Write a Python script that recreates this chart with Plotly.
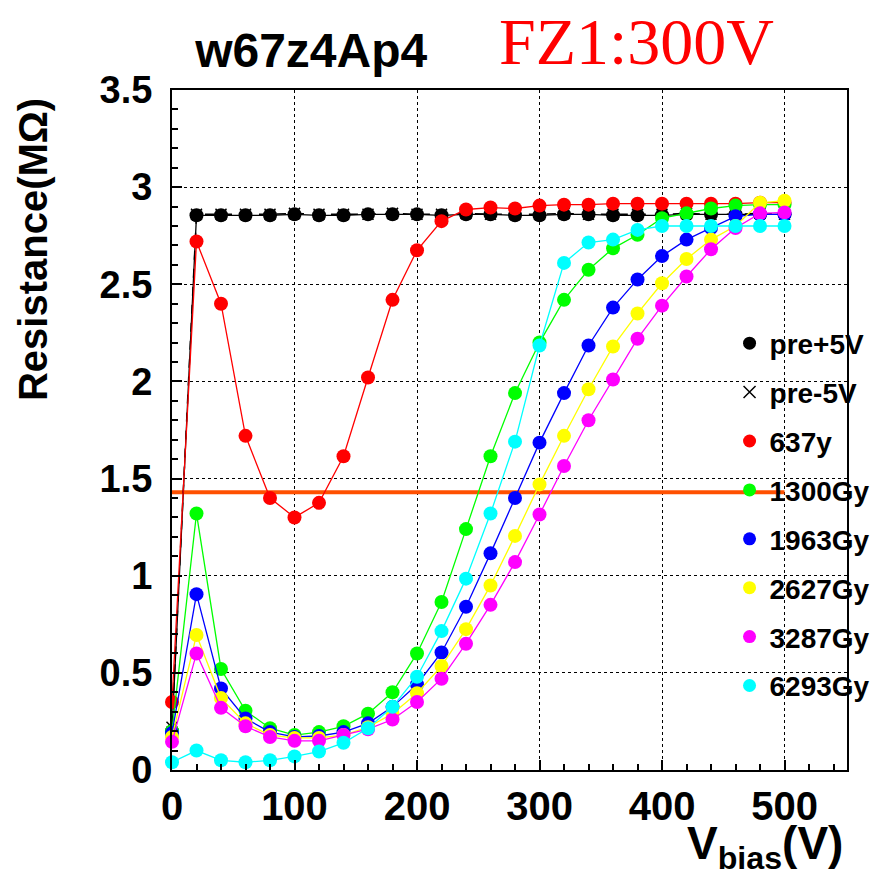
import plotly.graph_objects as go

vbias = [0, 20, 40, 60, 80, 100, 120, 140, 160, 180, 200, 220, 240, 260, 280, 300,
         320, 340, 360, 380, 400, 420, 440, 460, 480, 500]

pre_p5 = [0.20, 2.855, 2.855, 2.855, 2.855, 2.86, 2.855, 2.855, 2.86, 2.86, 2.86, 2.855, 2.86,
          2.86, 2.855, 2.855, 2.86, 2.86, 2.855, 2.855, 2.855, 2.86, 2.86, 2.86, 2.86, 2.86]
pre_m5 = [0.22, 2.86, 2.86, 2.86, 2.86, 2.865, 2.86, 2.86, 2.86, 2.865, 2.86, 2.86, 2.865,
          2.86, 2.86, 2.86, 2.865, 2.86, 2.86, 2.86, 2.86, 2.865, 2.86, 2.86, 2.865, 2.86]
d637 = [0.35, 2.72, 2.40, 1.72, 1.40, 1.30, 1.375, 1.615, 2.02, 2.42, 2.675, 2.825, 2.885,
        2.895, 2.89, 2.905, 2.91, 2.91, 2.915, 2.915, 2.915, 2.915, 2.915, 2.915, 2.92, 2.92]
d1300 = [0.20, 1.32, 0.52, 0.305, 0.215, 0.18, 0.195, 0.225, 0.29, 0.40, 0.60, 0.865, 1.24,
         1.615, 1.94, 2.20, 2.42, 2.575, 2.685, 2.755, 2.84, 2.865, 2.89, 2.905, 2.91, 2.91]
d1963 = [0.19, 0.905, 0.42, 0.265, 0.195, 0.17, 0.175, 0.195, 0.24, 0.325, 0.44, 0.605, 0.84,
         1.115, 1.40, 1.685, 1.94, 2.185, 2.38, 2.525, 2.645, 2.73, 2.79, 2.85, 2.86, 2.86]
d2627 = [0.17, 0.695, 0.37, 0.24, 0.18, 0.165, 0.165, 0.18, 0.22, 0.29, 0.395, 0.535, 0.725,
         0.95, 1.205, 1.47, 1.72, 1.96, 2.18, 2.35, 2.505, 2.63, 2.73, 2.80, 2.92, 2.93]
d3287 = [0.145, 0.60, 0.32, 0.225, 0.17, 0.15, 0.15, 0.18, 0.21, 0.26, 0.35, 0.47, 0.65,
         0.85, 1.07, 1.315, 1.565, 1.80, 2.01, 2.22, 2.39, 2.54, 2.68, 2.79, 2.865, 2.87]
d6293 = [0.04, 0.10, 0.05, 0.04, 0.05, 0.07, 0.095, 0.14, 0.215, 0.325, 0.48, 0.715, 0.985,
         1.32, 1.69, 2.185, 2.61, 2.715, 2.73, 2.78, 2.80, 2.80, 2.80, 2.80, 2.80, 2.80]

ref_x = [0, 500]
ref_y = [1.43, 1.43]

labels = ["pre+5V", "pre-5V", "637y", "1300Gy", "1963Gy", "2627Gy", "3287Gy", "6293Gy"]
series = [pre_p5, pre_m5, d637, d1300, d1963, d2627, d3287, d6293]
colors = ["#000000", "#000000", "#ff0000", "#00ff00", "#0000ff", "#ffff00", "#ff00ff", "#00ffff"]

FONT = "Liberation Sans, Arial, Helvetica, sans-serif"

fig = go.Figure()

# reference horizontal line
fig.add_trace(go.Scatter(x=ref_x, y=ref_y, mode="lines",
                         line=dict(color="#ff5000", width=4), showlegend=False,
                         cliponaxis=False))

for i, (lab, ys, col) in enumerate(zip(labels, series, colors)):
    if lab == "pre-5V":
        fig.add_trace(go.Scatter(x=vbias, y=ys, mode="lines+markers",
                                 line=dict(color=col, width=1.5, dash="dash"),
                                 marker=dict(symbol="x-thin", size=11,
                                             line=dict(color=col, width=1.5)),
                                 showlegend=False, cliponaxis=False))
    else:
        fig.add_trace(go.Scatter(x=vbias, y=ys, mode="lines+markers",
                                 line=dict(color=col, width=1.3),
                                 marker=dict(symbol="circle", size=14, color=col),
                                 showlegend=False, cliponaxis=False))

# legend-only entries (markers only)
for i, (lab, col) in enumerate(zip(labels, colors)):
    if lab == "pre-5V":
        mk = dict(symbol="x-thin", size=12, line=dict(color=col, width=1.5))
    else:
        mk = dict(symbol="circle", size=13, color=col)
    fig.add_trace(go.Scatter(x=[None], y=[None], mode="markers", marker=mk,
                             name=lab, legendgroup=f"g{i}", showlegend=True))

axis_common = dict(
    showline=True, linecolor="black", linewidth=2, mirror=True,
    ticks="inside", tickcolor="black", tickwidth=1.5, ticklen=10,
    showgrid=True, gridcolor="black", griddash="dot", gridwidth=1,
    zeroline=False, automargin=False,
)

fig.update_xaxes(range=[0, 551], dtick=100, tick0=0,
                 minor=dict(dtick=20, ticklen=6, ticks="inside", tickcolor="black", showgrid=False),
                 ticklabelstandoff=0,
                 tickfont=dict(family=FONT, size=40, color="black", weight="bold"),
                 **axis_common)
fig.update_yaxes(range=[0, 3.5], dtick=0.5, tick0=0,
                 minor=dict(dtick=0.1, ticklen=6, ticks="inside", tickcolor="black", showgrid=False),
                 ticklabelstandoff=10,
                 tickfont=dict(family=FONT, size=38, color="black", weight="bold"),
                 **axis_common)

fig.add_annotation(text="Resistance(MΩ)", textangle=-90, xref="paper", yref="paper",
                   x=-0.206, y=0.766, xanchor="center", yanchor="middle", showarrow=False,
                   font=dict(family=FONT, size=40, color="black", weight="bold"))
fig.add_annotation(text="V<sub>bias</sub>(V)", xref="paper", yref="paper",
                   x=0.997, y=-0.113, xanchor="right", yanchor="middle", showarrow=False,
                   font=dict(family=FONT, size=46, color="black", weight="bold"))
fig.add_annotation(text="FZ1:300V", xref="paper", yref="paper",
                   x=0.481, y=1.0706, xanchor="left", yanchor="middle", showarrow=False,
                   font=dict(family="Liberation Serif, Times New Roman, serif", size=66, color="#ff0000"))

fig.update_layout(
    width=879, height=879,
    margin=dict(l=172, r=32, t=90, b=109, autoexpand=False),
    paper_bgcolor="white", plot_bgcolor="white",
    title=dict(text="w67z4Ap4", x=0.222, xanchor="left", y=0.943, yanchor="middle",
               font=dict(family=FONT, size=48, color="black", weight="bold")),
    legend=dict(x=0.826, y=0.664, xanchor="left", yanchor="top",
                bgcolor="rgba(0,0,0,0)", borderwidth=0,
                font=dict(family=FONT, size=28, color="black", weight="bold"),
                tracegroupgap=9.5, itemsizing="trace"),
    showlegend=True,
)

fig.write_html("out.html")
